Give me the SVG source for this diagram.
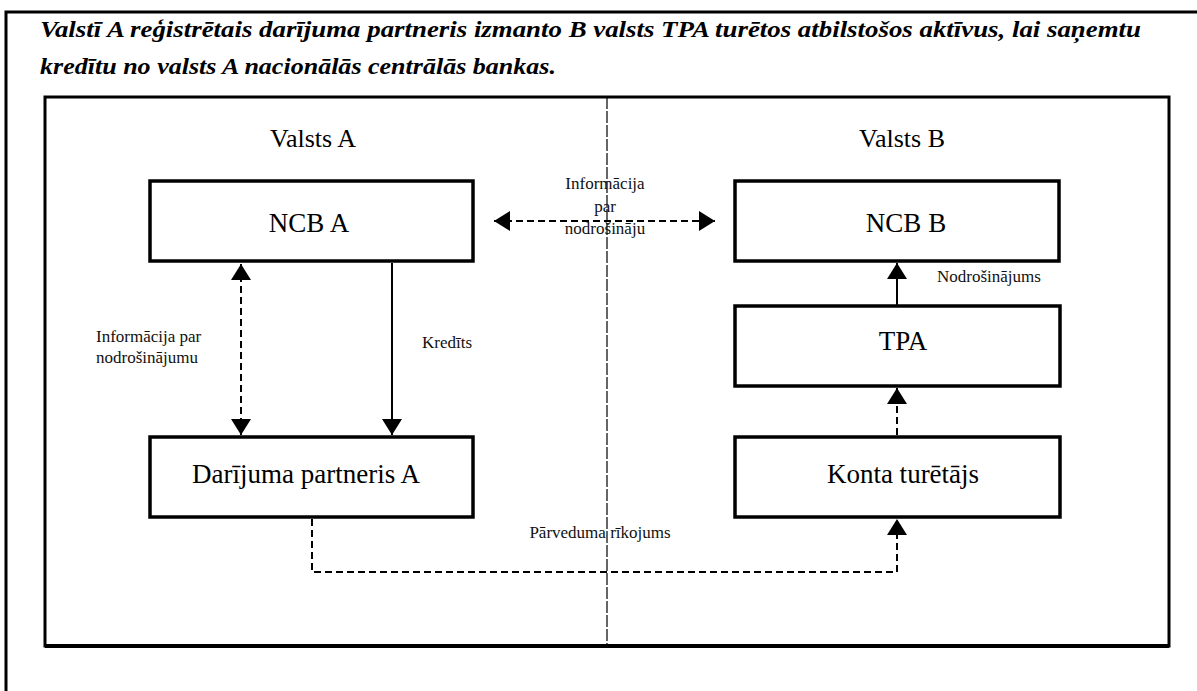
<svg xmlns="http://www.w3.org/2000/svg" width="1197" height="691" viewBox="0 0 1197 691">
<style>
.box{fill:#fff;stroke:#000;stroke-width:3.5}
.lbl{font-family:"Liberation Serif","Times New Roman",serif;font-size:27px;fill:#000;text-anchor:middle}
.hdr{font-family:"Liberation Serif","Times New Roman",serif;font-size:26px;fill:#000;text-anchor:middle}
.sm{font-family:"Liberation Serif","Times New Roman",serif;font-size:17px;fill:#111}
.title{font-family:"Liberation Serif","Times New Roman",serif;font-size:24px;font-weight:bold;font-style:italic;fill:#000}
.solid{fill:none;stroke:#000;stroke-width:2}
.dash{fill:none;stroke:#000;stroke-width:2;stroke-dasharray:7 4}
</style>
<defs>
<marker id="ah" viewBox="0 0 16 20" markerWidth="16" markerHeight="20" refX="16" refY="10" orient="auto-start-reverse" markerUnits="userSpaceOnUse">
<path d="M0,0 L16,10 L0,20 z" fill="#000"/>
</marker>
</defs>
<rect width="1197" height="691" fill="#fff"/>
<g id="frame">
<path d="M6,691 V12 H1197" fill="none" stroke="#000" stroke-width="3"/>
<text class="title" x="40" y="37" textLength="1101" lengthAdjust="spacingAndGlyphs">Valstī A reģistrētais darījuma partneris izmanto B valsts TPA turētos atbilstošos aktīvus, lai saņemtu</text>
<text class="title" x="40" y="74" textLength="516" lengthAdjust="spacingAndGlyphs">kredītu no valsts A nacionālās centrālās bankas.</text>
<rect x="45" y="97" width="1124" height="549" fill="none" stroke="#000" stroke-width="3"/>
<line x1="45" y1="646" x2="1169" y2="646" stroke="#000" stroke-width="4"/>
<line x1="607" y1="97" x2="607" y2="646" stroke="#000" stroke-width="1.2" stroke-dasharray="12 2"/>
<text class="hdr" x="313" y="147">Valsts A</text>
<text class="hdr" x="902" y="147">Valsts B</text>
</g>
<g id="connectors">
<line class="dash" x1="241" y1="264" x2="241" y2="435" marker-start="url(#ah)" marker-end="url(#ah)"/>
<line class="solid" x1="392" y1="263" x2="392" y2="435" marker-end="url(#ah)"/>
<line class="dash" x1="494" y1="221" x2="715" y2="221" marker-start="url(#ah)" marker-end="url(#ah)"/>
<line class="solid" x1="897" y1="305" x2="897" y2="263" marker-end="url(#ah)"/>
<line class="dash" x1="897" y1="435" x2="897" y2="388" marker-end="url(#ah)"/>
<path class="dash" d="M312,519 V572 H897 V519" marker-end="url(#ah)"/>
<text class="sm" x="96" y="342">Informācija par</text>
<text class="sm" x="96" y="363">nodrošinājumu</text>
<text class="sm" x="422" y="348">Kredīts</text>
<text class="sm" x="605" y="189" text-anchor="middle">Informācija</text>
<text class="sm" x="605" y="212" text-anchor="middle">par</text>
<text class="sm" x="605" y="234" text-anchor="middle">nodrošināju</text>
<text class="sm" x="937" y="282">Nodrošinājums</text>
<text class="sm" x="600" y="538" text-anchor="middle">Pārveduma rīkojums</text>
</g>
<g id="ncb-a">
<rect class="box" x="150" y="181" width="323" height="80"/>
<text class="lbl" x="309" y="232">NCB A</text>
</g>
<g id="ncb-b">
<rect class="box" x="735" y="181" width="324" height="80"/>
<text class="lbl" x="906" y="232">NCB B</text>
</g>
<g id="darijuma-partneris-a">
<rect class="box" x="150" y="437" width="323" height="80"/>
<text class="lbl" x="306" y="483">Darījuma partneris A</text>
</g>
<g id="tpa">
<rect class="box" x="735" y="306" width="325" height="80"/>
<text class="lbl" x="903" y="350">TPA</text>
</g>
<g id="konta-turetajs">
<rect class="box" x="735" y="437" width="325" height="80"/>
<text class="lbl" x="903" y="483">Konta turētājs</text>
</g>
</svg>
